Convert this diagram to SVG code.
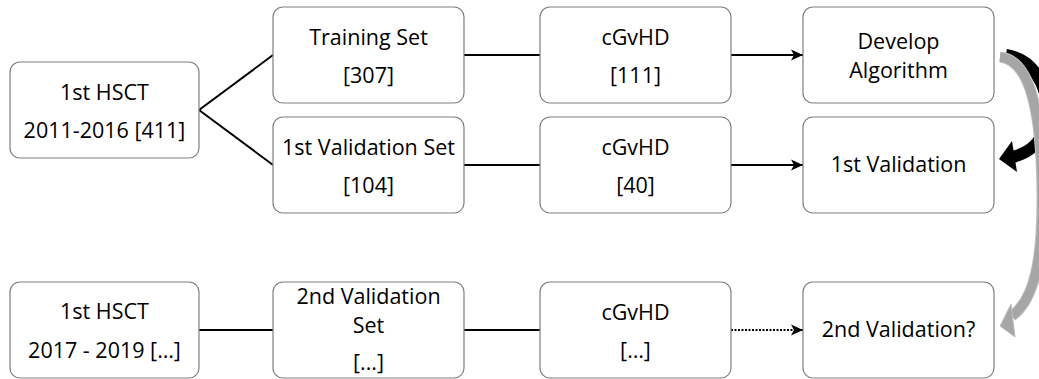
<svg xmlns="http://www.w3.org/2000/svg" width="1039" height="379" viewBox="0 0 1039 379">
<style>
.box{fill:#ffffff;stroke:#7f7f7f;stroke-width:1.2}
.t{font-family:"Open Sans","Liberation Sans",sans-serif;font-size:21.5px;fill:#000;text-anchor:middle}
.c{stroke:#000;stroke-width:2;fill:none}
.d{stroke:#000;stroke-width:2.2;fill:none;stroke-dasharray:2 1.5}
</style>
<defs>
<marker id="ah" markerUnits="userSpaceOnUse" markerWidth="13" markerHeight="12" refX="12" refY="6" orient="auto">
<path d="M0,0.5 L12,6 L0,11.5 L3,6 Z" fill="#000"/>
</marker>
</defs>
<rect width="1039" height="379" fill="#fff"/>
<g id="connectors">
<line class="c" x1="199" y1="110" x2="273" y2="55"/>
<line class="c" x1="199" y1="110" x2="273" y2="165"/>
<line class="c" x1="464" y1="55" x2="540" y2="55"/>
<line class="c" x1="464" y1="165" x2="540" y2="165"/>
<line class="c" x1="731" y1="55" x2="803" y2="55" marker-end="url(#ah)"/>
<line class="c" x1="731" y1="165" x2="803" y2="165" marker-end="url(#ah)"/>
<line class="c" x1="199" y1="330" x2="273" y2="330"/>
<line class="c" x1="464" y1="330" x2="540" y2="330"/>
<line class="d" x1="731" y1="330" x2="803" y2="330" marker-end="url(#ah)"/>
<g id="curved-black">
<path d="M1006,55 C1040,60 1052,100 1046,124 C1041,143 1030,153 1012,157" fill="none" stroke="#000" stroke-width="12"/>
<polygon points="999,159 1012,141 1017,172" fill="#000"/>
</g>
<g id="curved-gray">
<path d="M1000,57 C1030,60 1042,110 1042,200 C1042,255 1036,298 1012,316" fill="none" stroke="#bfbfbf" stroke-width="11"/>
<path d="M1000,57 C1030,60 1042,110 1042,200 C1042,255 1036,298 1012,316" fill="none" stroke="#a6a6a6" stroke-width="9"/>
<polygon points="1000,326 1011,304 1015,337" fill="#a6a6a6" stroke="#bfbfbf" stroke-width="1"/>
</g>
</g>
<g id="n-hsct1">
<rect class="box" x="10" y="62" width="189" height="96" rx="10"/>
<text class="t" x="104.5" y="100">1st HSCT</text>
<text class="t" x="104.5" y="138">2011-2016 [411]</text>
</g>
<g id="n-training">
<rect class="box" x="273" y="7" width="191" height="96" rx="10"/>
<text class="t" x="368.5" y="45">Training Set</text>
<text class="t" x="368.5" y="83">[307]</text>
</g>
<g id="n-val1set">
<rect class="box" x="273" y="117" width="191" height="96" rx="10"/>
<text class="t" x="368.5" y="155">1st Validation Set</text>
<text class="t" x="368.5" y="193">[104]</text>
</g>
<g id="n-cgvhd1">
<rect class="box" x="540" y="7" width="191" height="96" rx="10"/>
<text class="t" x="635.5" y="45">cGvHD</text>
<text class="t" x="635.5" y="83">[111]</text>
</g>
<g id="n-cgvhd2">
<rect class="box" x="540" y="117" width="191" height="96" rx="10"/>
<text class="t" x="635.5" y="155">cGvHD</text>
<text class="t" x="635.5" y="193">[40]</text>
</g>
<g id="n-develop">
<rect class="box" x="803" y="7" width="191" height="96" rx="10"/>
<text class="t" x="898.5" y="49">Develop</text>
<text class="t" x="898.5" y="78">Algorithm</text>
</g>
<g id="n-val1">
<rect class="box" x="803" y="117" width="191" height="96" rx="10"/>
<text class="t" x="898.5" y="172">1st Validation</text>
</g>
<g id="n-hsct2">
<rect class="box" x="10" y="282" width="189" height="96" rx="10"/>
<text class="t" x="104.5" y="319">1st HSCT</text>
<text class="t" x="104.5" y="358">2017 - 2019 […]</text>
</g>
<g id="n-val2set">
<rect class="box" x="273" y="282" width="191" height="96" rx="10"/>
<text class="t" x="368.5" y="304">2nd Validation</text>
<text class="t" x="368.5" y="333">Set</text>
<text class="t" x="368.5" y="370">[...]</text>
</g>
<g id="n-cgvhd3">
<rect class="box" x="540" y="282" width="191" height="96" rx="10"/>
<text class="t" x="635.5" y="320">cGvHD</text>
<text class="t" x="635.5" y="358">[…]</text>
</g>
<g id="n-val2">
<rect class="box" x="803" y="282" width="191" height="96" rx="10"/>
<text class="t" x="898.5" y="337">2nd Validation?</text>
</g>
</svg>
